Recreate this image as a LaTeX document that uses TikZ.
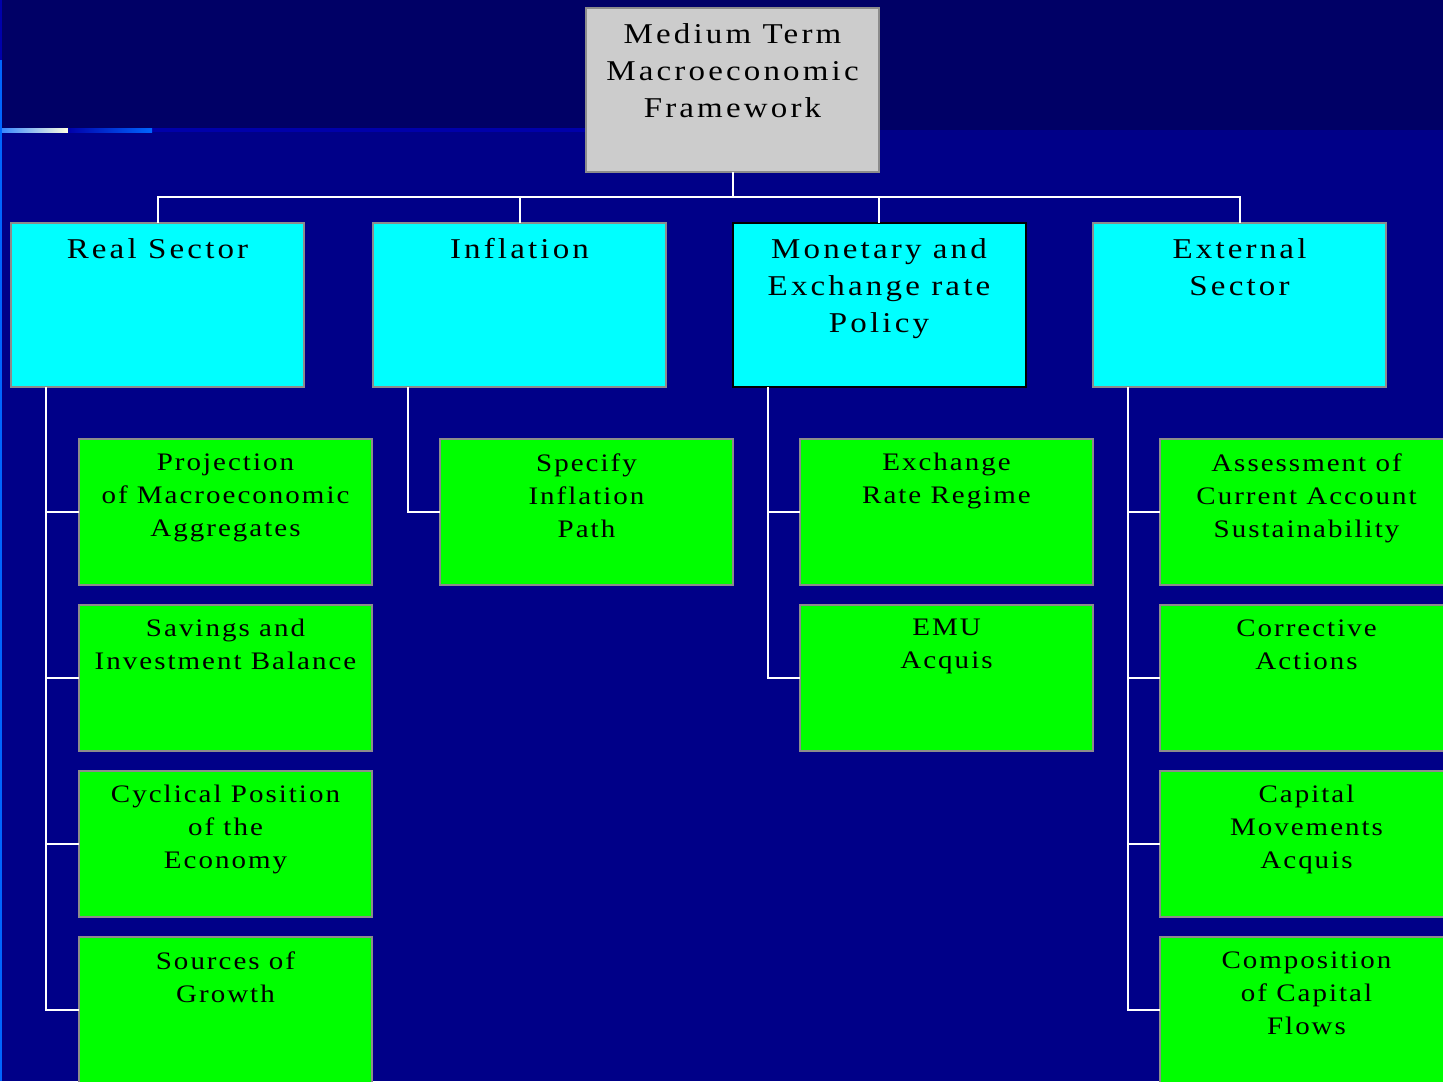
\documentclass[tikz,border=0pt]{standalone}
\usepackage{fontspec}
\setmainfont{Liberation Serif}
\usetikzlibrary{positioning}

\definecolor{bandtop}{HTML}{000066}
\definecolor{bandlow}{HTML}{000088}
\definecolor{rulecol}{HTML}{0000AA}
\definecolor{brightblue}{HTML}{0066FF}
\definecolor{cream}{HTML}{FFFFE0}
\definecolor{boxedge}{HTML}{8C8C8C}
\definecolor{topfill}{HTML}{CCCCCC}
\definecolor{sector}{HTML}{00FFFF}
\definecolor{task}{HTML}{00FF00}

\newcommand{\bigtxt}{\addfontfeatures{FakeStretch=1.15,LetterSpace=11}\fontsize{14.35}{18.5}\selectfont}
\newcommand{\smalltxt}{\addfontfeatures{FakeStretch=1.15,LetterSpace=8}\fontsize{12.6}{16.5}\selectfont}

\tikzset{
  panel/.style={rectangle, draw=boxedge, line width=1pt, inner sep=0pt, outer sep=0pt,
    minimum width=146.5pt},
  headbox/.style={panel, fill=topfill, minimum height=82pt},
  sectorbox/.style={panel, fill=sector, minimum height=82pt},
  taskbox/.style={panel, fill=task, minimum height=73pt},
  bigtext/.style={anchor=north, inner sep=0pt, align=center, font=\bigtxt},
  smalltext/.style={anchor=north, inner sep=0pt, align=center, font=\smalltxt},
  link/.style={draw=white, line width=1pt}
}

\begin{document}
\begin{tikzpicture}[x=0.5pt, y=-0.5pt]
  \path[use as bounding box, clip] (0,0) rectangle (1443,1081);

  % background
  \fill[bandlow] (0,0) rectangle (1443,1081);
  \fill[bandtop] (0,0) rectangle (1443,130);
  \fill[rulecol] (0,128) rectangle (600,132);
  \shade[left color=brightblue!80!white, right color=cream] (0,128) rectangle (68,132);
  \shade[left color=rulecol, right color=brightblue] (68,128) rectangle (152,132);
  \fill[brightblue] (0,60) rectangle (2,1081);
  \fill[rulecol] (0,0) rectangle (2,60);

  % top
  \node[headbox] (frame) at (732.5,90) {};
  \node[bigtext] (framet) at ([yshift=-7.5pt]frame.north) {Medium Term\\Macroeconomic\\Framework};

  % sectors
  \node[sectorbox] (real) at (157.5,305) {};
  \node[sectorbox] (infl) at (519.5,305) {};
  \node[sectorbox, draw=black] (money) at (879,305) {};
  \node[sectorbox] (ext) at (1239.5,305) {};
  \node[bigtext] (realt) at ([yshift=-7.5pt]real.north) {Real Sector};
  \node[bigtext] (inflt) at ([yshift=-7.5pt]infl.north) {Inflation};
  \node[bigtext] (moneyt) at ([yshift=-7.5pt]money.north) {Monetary and\\Exchange rate\\Policy};
  \node[bigtext] (extt) at ([yshift=-7.5pt]ext.north) {External\\Sector};

  % real sector tasks
  \node[taskbox] (proj) at (225.5,512) {};
  \node[taskbox] (saving) at (225.5,678) {};
  \node[taskbox] (cycle) at (225.5,844) {};
  \node[taskbox] (growth) at (225.5,1010) {};
  \node[smalltext] (projt) at ([yshift=-7pt]proj.north) {Projection\\of Macroeconomic\\Aggregates};
  \node[smalltext] (savingt) at ([yshift=-7pt]saving.north) {Savings and\\Investment Balance};
  \node[smalltext] (cyclet) at ([yshift=-7pt]cycle.north) {Cyclical Position\\of the\\Economy};
  \node[smalltext] (growtht) at ([yshift=-7pt]growth.north) {Sources of\\Growth};

  % inflation tasks
  \node[taskbox] (inflpath) at (586.5,512) {};
  \node[smalltext] (inflpatht) at ([yshift=-7pt]inflpath.north) {Specify\\Inflation\\Path};

  % monetary tasks
  \node[taskbox] (regime) at (946.5,512) {};
  \node[taskbox] (emu) at (946.5,678) {};
  \node[smalltext] (regimet) at ([yshift=-7pt]regime.north) {Exchange\\Rate Regime};
  \node[smalltext] (emut) at ([yshift=-7pt]emu.north) {EMU\\Acquis};

  % external tasks
  \node[taskbox] (account) at (1306.5,512) {};
  \node[taskbox] (correct) at (1306.5,678) {};
  \node[taskbox] (capmov) at (1306.5,844) {};
  \node[taskbox] (capflow) at (1306.5,1010) {};
  \node[smalltext] (accountt) at ([yshift=-7pt]account.north) {Assessment of\\Current Account\\Sustainability};
  \node[smalltext] (correctt) at ([yshift=-7pt]correct.north) {Corrective\\Actions};
  \node[smalltext] (capmovt) at ([yshift=-7pt]capmov.north) {Capital\\Movements\\Acquis};
  \node[smalltext] (capflowt) at ([yshift=-7pt]capflow.north) {Composition\\of Capital\\Flows};

  % connectors
  \coordinate (bus) at ([yshift=-12.5pt]frame.south);
  \draw[link] (frame.south) -- (bus);
  \draw[link] (real.north) |- (bus);
  \draw[link] (ext.north) |- (bus);
  \draw[link] (infl.north) -- (infl.north |- bus);
  \draw[link] (money.north) -- (money.north |- bus);

  \coordinate (realspine) at ([xshift=17.5pt]real.south west);
  \coordinate (inflspine) at ([xshift=17.5pt]infl.south west);
  \coordinate (moneyspine) at ([xshift=17.5pt]money.south west);
  \coordinate (extspine) at ([xshift=17.5pt]ext.south west);
  \draw[link] (realspine) |- (proj.west) (realspine) |- (saving.west)
    (realspine) |- (cycle.west) (realspine) |- (growth.west);
  \draw[link] (inflspine) |- (inflpath.west);
  \draw[link] (moneyspine) |- (regime.west) (moneyspine) |- (emu.west);
  \draw[link] (extspine) |- (account.west) (extspine) |- (correct.west)
    (extspine) |- (capmov.west) (extspine) |- (capflow.west);
\end{tikzpicture}
\end{document}
